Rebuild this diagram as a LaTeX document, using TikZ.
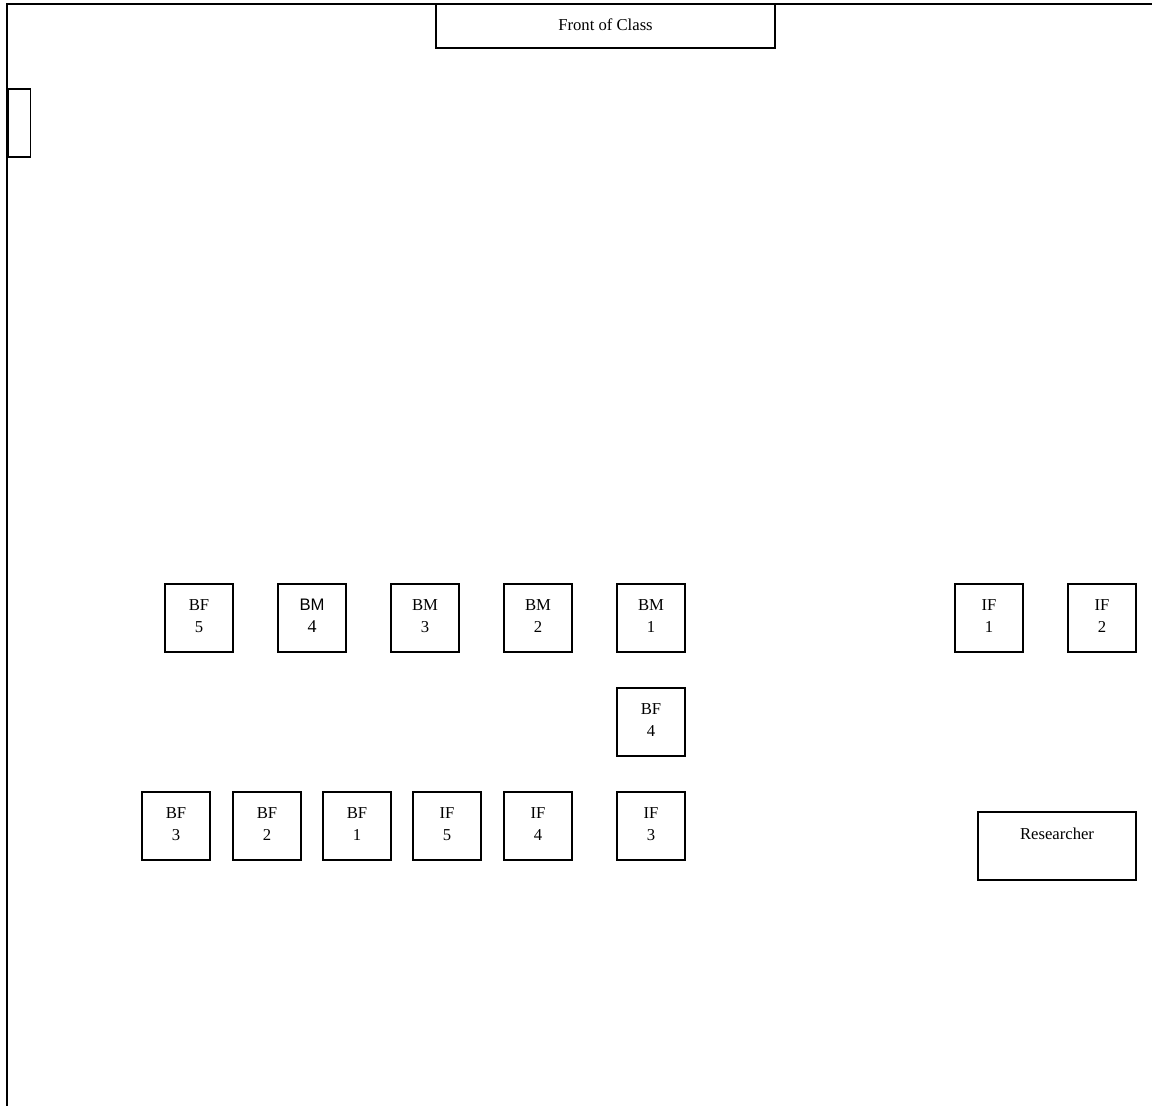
\documentclass[tikz,border=0pt]{standalone}
\usepackage{fontspec}
\setmainfont{Liberation Serif}
\newfontfamily\arialfont{Liberation Sans}
\newcommand{\lowstrut}{\rule[-3pt]{0pt}{0pt}}
\begin{document}
\begin{tikzpicture}[x=0.75pt,y=-0.75pt,
  wall/.style={line width=1.6pt},
  seat/.style={draw,line width=1.3pt,minimum width=51pt,minimum height=51pt,inner sep=0pt,align=center,
    font=\fontsize{12.5}{16.5}\selectfont},
  boxed/.style={draw,line width=1.3pt,inner sep=0pt},
  lbl/.style={inner sep=0pt,font=\fontsize{12.5}{15}\selectfont}]
\useasboundingbox (0,0) rectangle (1152,1106);
% walls
\coordinate (tl) at (7,4);
\coordinate (tr) at (1152,4);
\coordinate (bl) at (7,1106);
\draw[wall] (tr) -- (tl) -- (bl);
% front of class
\node[boxed,minimum width=254.25pt,minimum height=33pt] (front) at (605.5,26) {};
\node[lbl] (frontlabel) at (605.5,25) {Front of Class};
% door
\node[boxed,minimum width=17pt,minimum height=51pt,anchor=north west] (door) at (7,88) {};
% row 1
\node[seat] (bf5) at (199,618) {BF\\5\lowstrut};
\node[seat] (bm4) at (312,618) {{\arialfont BM}\\{\fontsize{13.5}{16.5}\selectfont 4}\lowstrut};
\node[seat] (bm3) at (425,618) {BM\\3\lowstrut};
\node[seat] (bm2) at (538,618) {BM\\2\lowstrut};
\node[seat] (bm1) at (651,618) {BM\\1\lowstrut};
\node[seat] (if1) at (989,618) {IF\\1\lowstrut};
\node[seat] (if2) at (1102,618) {IF\\2\lowstrut};
% middle
\node[seat] (bf4) at (651,722) {BF\\4\lowstrut};
% row 3
\node[seat] (bf3) at (176,826) {BF\\3\lowstrut};
\node[seat] (bf2) at (267,826) {BF\\2\lowstrut};
\node[seat] (bf1) at (357,826) {BF\\1\lowstrut};
\node[seat] (if5) at (447,826) {IF\\5\lowstrut};
\node[seat] (if4) at (538,826) {IF\\4\lowstrut};
\node[seat] (if3) at (651,826) {IF\\3\lowstrut};
% researcher
\node[boxed,minimum width=118.5pt,minimum height=51pt] (res) at (1057,846) {};
\node[lbl] (reslabel) at (1057,834) {Researcher};
\end{tikzpicture}
\end{document}
